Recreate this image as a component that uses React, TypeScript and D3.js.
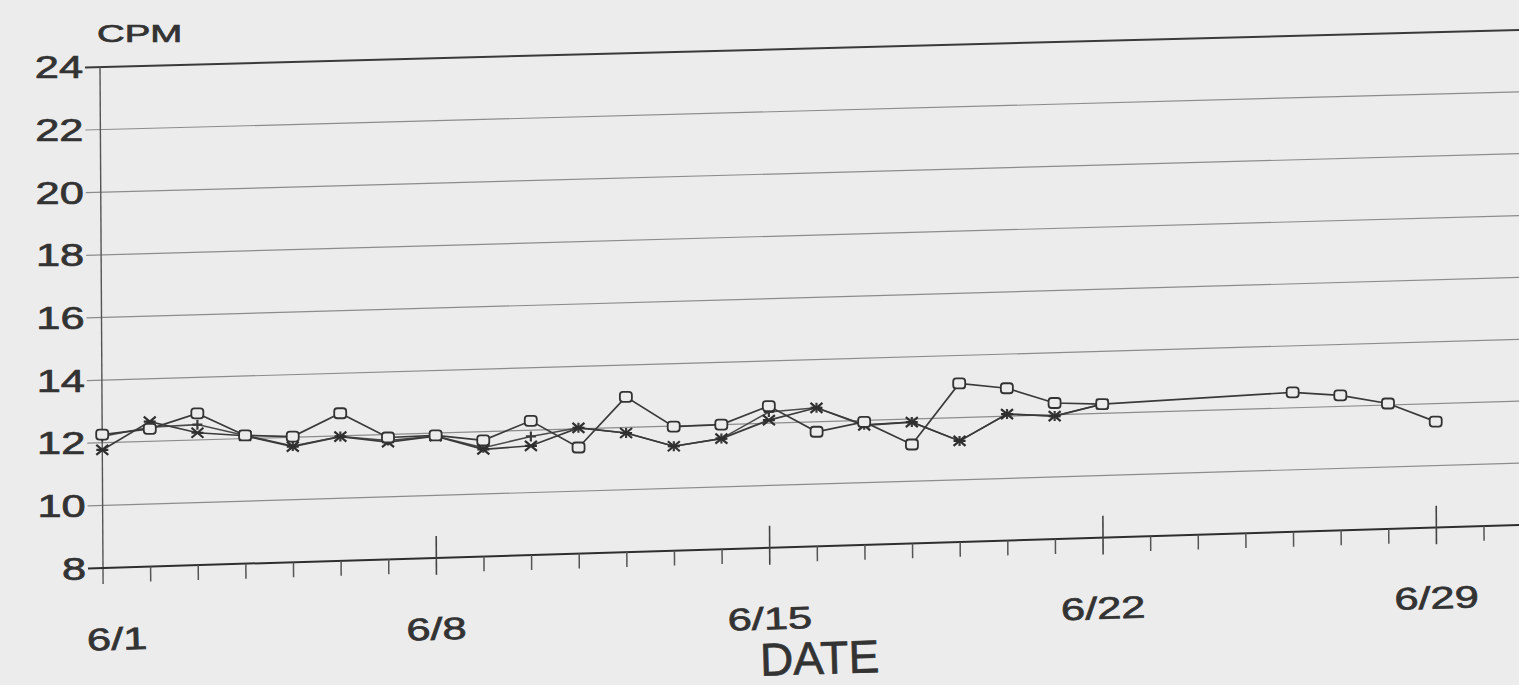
import * as d3 from "d3";

// ---- data ----
const DAYS_A = [1, 2, 3, 4, 5, 6, 7, 8, 9, 10, 11, 12, 13, 14, 15, 16, 17, 18, 19, 20, 21, 22, 26, 27, 28, 29];
const CPM_A = [12.26, 12.4, 12.85, 12.1, 12.02, 12.72, 11.9, 11.92, 11.72, 12.3, 11.4, 12.98, 11.98, 12.0, 12.55, 11.68, 11.95, 11.18, 13.1, 12.9, 12.38, 12.3, 12.5, 12.36, 12.05, 11.42];

const DAYS_B = [1, 2, 3, 4, 5, 6, 7, 8, 9, 10, 11, 12, 13, 14, 15, 16, 17, 18, 19, 20, 21, 22];
const CPM_B = [11.77, 12.63, 12.23, 12.09, 11.7, 11.97, 11.75, 11.9, 11.43, 11.5, 12.03, 11.82, 11.35, 11.55, 12.1, 12.45, 11.84, 11.9, 11.25, 12.07, 11.96, 12.3];
const CPM_C = [12.2, 12.45, 12.49, 12.1, 11.72, 11.98, 11.8, 11.9, 11.48, 11.8, 12.03, 11.82, 11.35, 11.55, 12.36, 12.45, 11.86, 11.9, 11.25, 12.07, 11.96, 12.3];

const Y_TICKS = [8, 10, 12, 14, 16, 18, 20, 22, 24];
const X_MAJOR = [8, 15, 22, 29];
const X_LABELS = [
  { day: 1, text: "6/1" },
  { day: 8, text: "6/8" },
  { day: 15, text: "6/15" },
  { day: 22, text: "6/22" },
  { day: 29, text: "6/29" },
];

const W = 1519;
const H = 685;
const X0 = 103;
const Y0 = 568;
const YTOP = 67;

const x = d3.scaleLinear().domain([1, 30]).range([X0, X0 + 29 * 47.62]);
const y = d3.scaleLinear().domain([8, 24]).range([Y0, YTOP]);

// the scan is tilted (and a bit keystoned): warp flat chart coords onto it
function slopeAt(py: number) {
  const t = (Y0 - py) / (Y0 - YTOP);
  return -0.0304 + 0.0043 * t;
}
function warp(px: number, py: number): [number, number] {
  const t = (Y0 - py) / (Y0 - YTOP);
  return [px - 3 * t, py + slopeAt(py) * (px - X0)];
}
const angleAt = (py: number) => (Math.atan(slopeAt(py)) * 180) / Math.PI;

const INK = "#333";
const FONT = "'Liberation Sans', Arial, sans-serif";

const seg = (a: [number, number], b: [number, number]) => `M${a[0]},${a[1]}L${b[0]},${b[1]}`;

function App() {
  const line = d3
    .line<[number, number]>()
    .x((d) => warp(x(d[0]), y(d[1]))[0])
    .y((d) => warp(x(d[0]), y(d[1]))[1]);

  const ptsA = DAYS_A.map((d, i) => [d, CPM_A[i]] as [number, number]);
  const ptsB = DAYS_B.map((d, i) => [d, CPM_B[i]] as [number, number]);
  const ptsC = DAYS_B.map((d, i) => [d, CPM_C[i]] as [number, number]);

  const minorDays = d3.range(2, 31).filter((d) => !X_MAJOR.includes(d));
  const axisY = y(8);
  const textStyle = { stroke: INK, strokeWidth: 0.7 };

  return (
    <div style={{ position: "absolute", left: 0, top: 0 }}>
      <svg width={W} height={H} style={{ display: "block" }}>
        <rect width={W} height={H} fill="#ececec" />

        {/* gridlines */}
        {Y_TICKS.filter((v) => v > 8).map((v) => (
          <path
            key={"g" + v}
            d={seg(warp(X0 - 15, y(v)), warp(x(31), y(v)))}
            stroke={v === 24 ? "#3a3a3a" : "#8c8c8c"}
            strokeWidth={v === 24 ? 2 : 1.2}
            fill="none"
          />
        ))}

        {/* y axis */}
        <path d={seg(warp(X0, axisY + 16), warp(X0, y(24)))} stroke="#555" strokeWidth={1.4} />
        {/* x axis */}
        <path d={seg(warp(X0 - 15, axisY), warp(x(31), axisY))} stroke="#2e2e2e" strokeWidth={2} />

        {minorDays.map((d) => (
          <path key={"t" + d} d={seg(warp(x(d), axisY), warp(x(d), axisY + 15))} stroke="#555" strokeWidth={1.5} />
        ))}
        {X_MAJOR.map((d) => (
          <path key={"T" + d} d={seg(warp(x(d), axisY - 22), warp(x(d), axisY + 17))} stroke="#444" strokeWidth={1.6} />
        ))}

        {/* y labels */}
        {Y_TICKS.map((v) => {
          const [lx, ly] = warp(86, y(v) + 11);
          return (
            <text
              key={"y" + v}
              transform={`translate(${lx},${ly}) scale(1.4,1)`}
              textAnchor="end"
              fontFamily={FONT}
              fontSize={31}
              fill={INK}
              style={textStyle}
            >
              {v}
            </text>
          );
        })}

        <text transform="translate(97,42) scale(1.6,1)" fontFamily={FONT} fontSize={24} fill={INK} style={textStyle}>
          CPM
        </text>

        {/* x labels */}
        {X_LABELS.map((l) => {
          const [lx, ly] = warp(x(l.day) + (l.day === 1 ? 14 : 0), axisY + 82);
          return (
            <text
              key={l.text}
              transform={`translate(${lx},${ly}) rotate(${angleAt(axisY)}) scale(1.4,1)`}
              textAnchor="middle"
              fontFamily={FONT}
              fontSize={31}
              fill={INK}
              style={textStyle}
            >
              {l.text}
            </text>
          );
        })}
        <text
          transform={`translate(820,674) rotate(${angleAt(axisY)}) scale(1,1)`}
          textAnchor="middle"
          fontFamily={FONT}
          fontSize={46}
          fill={INK}
          style={textStyle}
        >
          DATE
        </text>

        {/* series lines */}
        <path d={line(ptsC) ?? ""} fill="none" stroke="#4a4a4a" strokeWidth={1.5} />
        <path d={line(ptsB) ?? ""} fill="none" stroke="#3a3a3a" strokeWidth={1.7} />
        <path d={line(ptsA) ?? ""} fill="none" stroke="#3a3a3a" strokeWidth={1.7} />

        {/* markers */}
        {ptsC.map((p, i) => {
          const [cx, cy] = warp(x(p[0]), y(p[1]));
          return (
            <path key={"c" + i} d={`M${cx - 5},${cy}H${cx + 5}M${cx},${cy - 5}V${cy + 5}`} stroke="#3a3a3a" strokeWidth={2.2} />
          );
        })}
        {ptsB.map((p, i) => {
          const [cx, cy] = warp(x(p[0]), y(p[1]));
          return (
            <path
              key={"b" + i}
              d={`M${cx - 6},${cy - 5}L${cx + 6},${cy + 5}M${cx - 6},${cy + 5}L${cx + 6},${cy - 5}M${cx - 6},${cy}H${cx + 6}`}
              stroke="#2f2f2f"
              strokeWidth={2.2}
            />
          );
        })}
        {ptsA.map((p, i) => {
          const [cx, cy] = warp(x(p[0]), y(p[1]));
          return (
            <rect
              key={"a" + i}
              x={cx - 6}
              y={cy - 5}
              width={12}
              height={10}
              rx={3}
              fill="#ececec"
              stroke="#333"
              strokeWidth={1.8}
            />
          );
        })}
      </svg>
    </div>
  );
}

export default App;
